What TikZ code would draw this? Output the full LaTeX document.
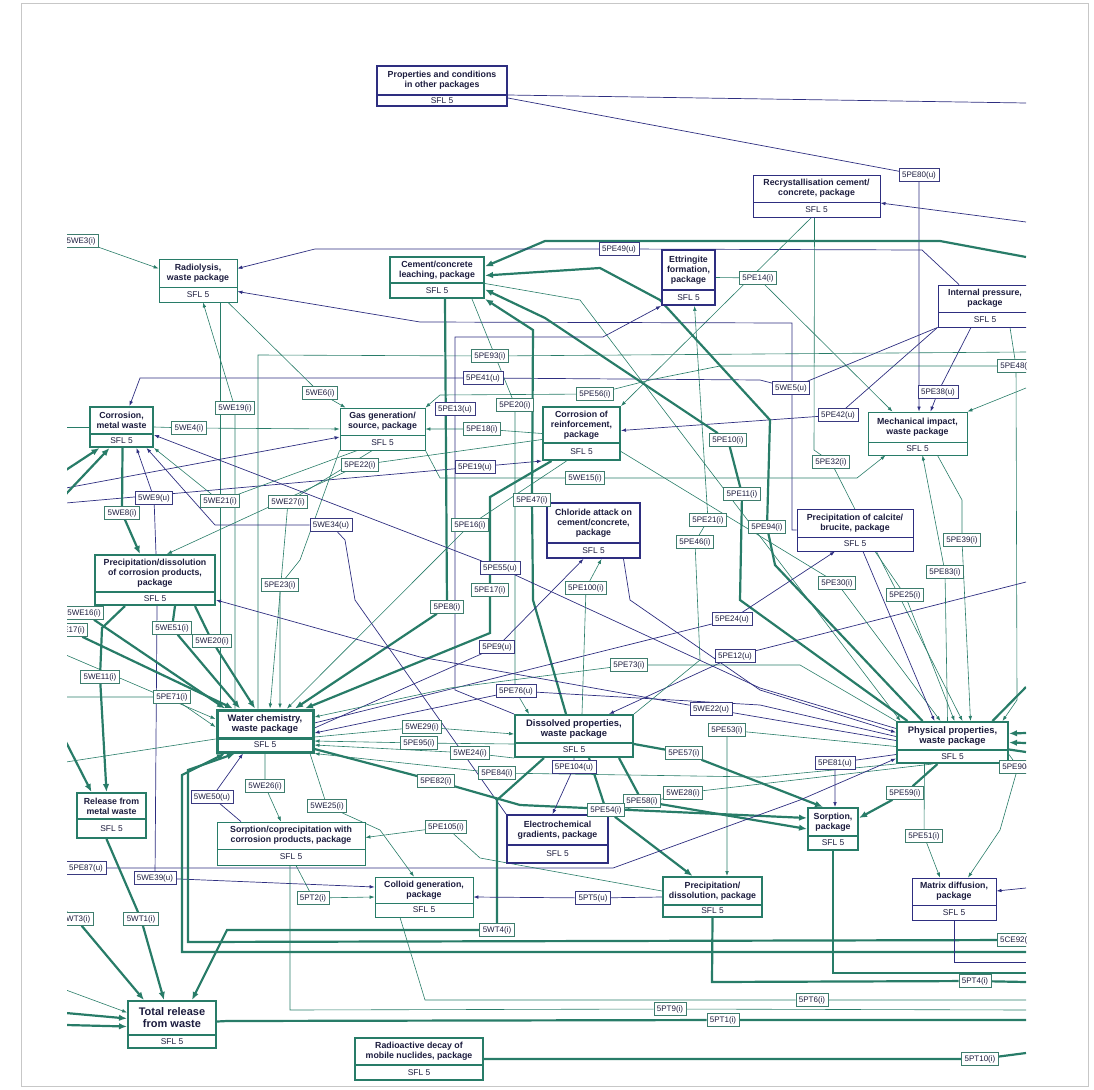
\documentclass[tikz,border=0pt]{standalone}
\usepackage{fontspec}
\setmainfont{Liberation Sans}
\usetikzlibrary{arrows.meta,backgrounds}
\definecolor{fepgreen}{RGB}{40,124,104}
\definecolor{fepnavy}{RGB}{46,46,128}
\definecolor{feptext}{RGB}{28,28,62}
\tikzset{
  fepthin/.style={draw=fepgreen, line width=0.8pt},
  fepthick/.style={draw=fepgreen, line width=2pt},
  fepwide/.style={draw=fepgreen, line width=3pt},
  fepnavy/.style={draw=fepnavy, line width=0.9pt},
  fepnavythick/.style={draw=fepnavy, line width=1.8pt},
  boxtitle/.style={font=\bfseries\fontsize{8.8}{9.8}\selectfont, text=feptext, align=center, inner sep=0pt},
  boxsfl/.style={font=\fontsize{8.4}{9}\selectfont, text=feptext, inner sep=0pt},
  idi/.style={draw=fepgreen!75!gray, line width=0.6pt, fill=white, font=\fontsize{8}{9}\selectfont, text=feptext, inner xsep=3pt, inner ysep=1pt, minimum height=13pt},
  idu/.style={idi, draw=fepnavy!85!gray},
  gline/.style={draw=fepgreen, line width=0.6pt},
  garrow/.style={gline, -{Latex[length=5pt,width=3.6pt]}},
  gthick/.style={draw=fepgreen, line width=2.2pt},
  gthickarrow/.style={gthick, -{Latex[length=8pt,width=6.5pt]}},
  nline/.style={draw=fepnavy, line width=0.7pt},
  narrow/.style={nline, -{Latex[length=5pt,width=3.6pt]}}
}
% process box: [title opts]{name}{style}{x1}{y1}{x2}{y2}{divider y}{title}
\newcommand{\fepbox}[9][]{%
  \node[#3, fill=white, inner sep=0pt, minimum width={(#6-#4)*1pt}, minimum height={(#7-#5)*1pt}] (#2) at ({(#4+#6)/2},{(#5+#7)/2}) {};
  \draw[#3] (#4,#8) -- (#6,#8);
  \node[boxtitle,#1] (#2-t) at ({(#4+#6)/2},{(#5+#8)/2}) {#9};
  \node[boxsfl] (#2-s) at ({(#4+#6)/2},{(#8+#7)/2}) {SFL 5};
}

\begin{document}
\begin{tikzpicture}[x=1pt, y=-1pt]
\useasboundingbox (0,0) rectangle (1094,1089);
\draw[black!22, line width=0.8pt] (21,3) rectangle (1088,1086);

\begin{scope}
\clip (67,0) rectangle (1026,1089);
% ---- process boxes ----
\fepbox{props}{fepnavythick}{377}{66}{507}{106}{95}{Properties and conditions\\in other packages}
\fepbox{recr}{fepnavy}{753}{175}{880}{217}{202}{Recrystallisation cement/\\concrete, package}
\fepbox{radio}{fepthin}{159}{259}{237}{302}{287}{Radiolysis,\\waste package}
\fepbox{cem}{fepthick}{390}{257}{484}{298}{283}{Cement/concrete\\leaching, package}
\fepbox{ettr}{fepnavythick}{662}{250}{715}{305}{290}{Ettringite\\formation,\\package}
\fepbox{intp}{fepnavy}{938}{285}{1032}{327}{312}{Internal pressure,\\package}
\fepbox{corm}{fepthick}{90}{407}{153}{447}{434}{Corrosion,\\metal waste}
\fepbox{gas}{fepthin}{340}{408}{425}{450}{435}{Gas generation/\\source, package}
\fepbox{corr}{fepthick}{543}{407}{620}{460}{443}{Corrosion of\\reinforcement,\\package}
\fepbox{mech}{fepthin}{868}{412}{967}{455}{442}{Mechanical impact,\\waste package}
\fepbox{chlo}{fepnavythick}{547}{503}{640}{558}{543}{Chloride attack on\\cement/concrete,\\package}
\fepbox{calc}{fepnavy}{797}{509}{913}{551}{537}{Precipitation of calcite/\\brucite, package}
\fepbox{prec}{fepthick}{95}{555}{215}{605}{592}{Precipitation/dissolution\\of corrosion products,\\package}
\fepbox[font=\bfseries\fontsize{9.4}{10.4}\selectfont]{water}{fepwide}{217}{710}{313}{752}{738}{Water chemistry,\\waste package}
\fepbox[font=\bfseries\fontsize{9.4}{10.4}\selectfont]{diss}{fepthick}{515}{715}{633}{757}{743}{Dissolved properties,\\waste package}
\fepbox[font=\bfseries\fontsize{9.4}{10.4}\selectfont]{phys}{fepthick}{897}{722}{1008}{763}{750}{Physical properties,\\waste package}
\fepbox{relm}{fepthick}{77}{793}{146}{838}{819}{Release from\\metal waste}
\fepbox{sorpc}{fepthin}{217}{822}{365}{865}{849}{Sorption/coprecipitation with\\corrosion products, package}
\fepbox{elec}{fepnavythick}{507}{815}{608}{863}{845}{Electrochemical\\gradients, package}
\fepbox{sorp}{fepthick}{808}{808}{858}{850}{836}{Sorption,\\package}
\fepbox{coll}{fepthin}{375}{877}{473}{917}{903}{Colloid generation,\\package}
\fepbox{precd}{fepthick}{663}{877}{762}{917}{905}{Precipitation/\\dissolution, package}
\fepbox{matr}{fepnavy}{912}{878}{996}{920}{905}{Matrix diffusion,\\package}
\fepbox[font=\bfseries\fontsize{11}{12}\selectfont]{total}{fepthick}{128}{1001}{216}{1048}{1035}{Total release\\from waste}
\fepbox{decay}{fepthick}{355}{1038}{483}{1080}{1065}{Radioactive decay of\\mobile nuclides, package}

% ---- influence labels ----
\node[idi] (we3) at (81,241) {5WE3(i)};
\node[idu] (pe80) at (919,175) {5PE80(u)};
\node[idu] (pe49) at (619,249) {5PE49(u)};
\node[idi] (pe14) at (758,278) {5PE14(i)};
\node[idi] (pe48) at (1016,366) {5PE48(i)};
\node[idi] (we19) at (235,408) {5WE19(i)};
\node[idi] (we6) at (320,393) {5WE6(i)};
\node[idi] (we4) at (189,428) {5WE4(i)};
\node[idi] (pe22) at (360,465) {5PE22(i)};
\node[idu] (we9) at (154,498) {5WE9(u)};
\node[idi] (we21) at (220,501) {5WE21(i)};
\node[idi] (we27) at (288,502) {5WE27(i)};
\node[idi] (we8) at (122,513) {5WE8(i)};
\node[idu] (we34) at (331,525) {5WE34(u)};
\node[idi] (pe93) at (490,356) {5PE93(i)};
\node[idu] (pe41) at (483,378) {5PE41(u)};
\node[idi] (pe56) at (595,394) {5PE56(i)};
\node[idu] (pe13) at (455,409) {5PE13(u)};
\node[idi] (pe20) at (515,405) {5PE20(i)};
\node[idi] (pe18) at (482,429) {5PE18(i)};
\node[idi] (pe10) at (728,440) {5PE10(i)};
\node[idu] (pe19) at (475,467) {5PE19(u)};
\node[idi] (we15) at (585,478) {5WE15(i)};
\node[idi] (pe11) at (742,494) {5PE11(i)};
\node[idi] (pe47) at (532,500) {5PE47(i)};
\node[idi] (pe21) at (708,520) {5PE21(i)};
\node[idi] (pe16) at (470,525) {5PE16(i)};
\node[idi] (pe46) at (695,542) {5PE46(i)};
\node[idu] (pe55) at (500,568) {5PE55(u)};
\node[idu] (we5) at (791,388) {5WE5(u)};
\node[idu] (pe38) at (938,392) {5PE38(u)};
\node[idu] (pe42) at (838,415) {5PE42(u)};
\node[idi] (pe32) at (831,462) {5PE32(i)};
\node[idi] (pe94) at (767,527) {5PE94(i)};
\node[idi] (pe39) at (962,540) {5PE39(i)};
\node[idi] (pe83) at (945,572) {5PE83(i)};
\node[idi] (pe30) at (837,583) {5PE30(i)};
\node[idi] (pe25) at (905,595) {5PE25(i)};
\node[idi] (we16) at (84,613) {5WE16(i)};
\node[idi] (we17) at (68,630) {5WE17(i)};
\node[idi] (we51) at (172,628) {5WE51(i)};
\node[idi] (we20) at (212,641) {5WE20(i)};
\node[idi] (we11) at (100,677) {5WE11(i)};
\node[idi] (pe71) at (172,697) {5PE71(i)};
\node[idi] (pe23) at (280,585) {5PE23(i)};
\node[idu] (we50) at (212,797) {5WE50(u)};
\node[idi] (we26) at (265,786) {5WE26(i)};
\node[idi] (we25) at (327,806) {5WE25(i)};
\node[idi] (pe17) at (490,590) {5PE17(i)};
\node[idi] (pe100) at (586,588) {5PE100(i)};
\node[idi] (pe8) at (447,607) {5PE8(i)};
\node[idu] (pe24) at (732,619) {5PE24(u)};
\node[idu] (pe9) at (497,647) {5PE9(u)};
\node[idu] (pe12) at (735,656) {5PE12(u)};
\node[idi] (pe73) at (629,665) {5PE73(i)};
\node[idu] (pe76) at (516,691) {5PE76(u)};
\node[idu] (we22) at (711,709) {5WE22(u)};
\node[idi] (we29) at (422,727) {5WE29(i)};
\node[idi] (pe95) at (419,743) {5PE95(i)};
\node[idi] (pe53) at (727,730) {5PE53(i)};
\node[idi] (we24) at (470,753) {5WE24(i)};
\node[idi] (pe57) at (684,753) {5PE57(i)};
\node[idu] (pe104) at (574,767) {5PE104(u)};
\node[idi] (pe84) at (497,773) {5PE84(i)};
\node[idi] (pe82) at (436,781) {5PE82(i)};
\node[idi] (we28) at (683,793) {5WE28(i)};
\node[idi] (pe58) at (642,801) {5PE58(i)};
\node[idi] (pe54) at (606,810) {5PE54(i)};
\node[idi] (pe105) at (446,827) {5PE105(i)};
\node[idu] (pe81) at (835,763) {5PE81(u)};
\node[idi] (pe90) at (1018,767) {5PE90(i)};
\node[idi] (pe59) at (905,793) {5PE59(i)};
\node[idi] (pe51) at (924,836) {5PE51(i)};
\node[idu] (pe87) at (86,868) {5PE87(u)};
\node[idu] (we39) at (155,878) {5WE39(u)};
\node[idi] (pt2) at (313,898) {5PT2(i)};
\node[idi] (wt3) at (76,919) {5WT3(i)};
\node[idi] (wt1) at (141,919) {5WT1(i)};
\node[idu] (pt5) at (593,898) {5PT5(u)};
\node[idi] (wt4) at (497,930) {5WT4(i)};
\node[idi] (ce92) at (1016,940) {5CE92(i)};
\node[idi] (pt4) at (975,981) {5PT4(i)};
\node[idi] (pt6) at (812,1000) {5PT6(i)};
\node[idi] (pt9) at (670,1009) {5PT9(i)};
\node[idi] (pt1) at (723,1020) {5PT1(i)};
\node[idi] (pt10) at (980,1059) {5PT10(i)};

% free ends at the cut edges
\coordinate (oPropsR) at (1026,103);
\coordinate (oRecrR) at (1026,222);
\coordinate (oCemR) at (1026,257);
\coordinate (oQ352) at (1026,352);
\coordinate (oMechR) at (1026,388);
\coordinate (oR582) at (1026,582);
\coordinate (oR687) at (1026,687);
\coordinate (oR733) at (1026,733);
\coordinate (oR743) at (1026,743);
\coordinate (oR752) at (1026,752);
\coordinate (oR888) at (1026,888);
\coordinate (oR952) at (1026,952);
\coordinate (oR962) at (1026,962);
\coordinate (oR973) at (1026,973);
\coordinate (oR982) at (1026,982);
\coordinate (oR1000) at (1026,1000);
\coordinate (oR1010) at (1026,1010);
\coordinate (oR1020) at (1026,1020);
\coordinate (oR1053) at (1026,1053);
\coordinate (iL241) at (60,241);
\coordinate (iL427) at (66,427);
\coordinate (iL470) at (66,470);
\coordinate (iL488) at (66,488);
\coordinate (iL492) at (66,494);
\coordinate (iL500) at (66,503);
\coordinate (iL613) at (60,613);
\coordinate (iL630) at (60,630);
\coordinate (iL655) at (66,655);
\coordinate (iL697) at (60,697);
\coordinate (iL740) at (66,742);
\coordinate (iL760) at (66,762);
\coordinate (iL868) at (60,868);
\coordinate (iL905) at (60,907);
\coordinate (iL990) at (66,990);
\coordinate (iL1012) at (66,1013);
\coordinate (iL1025) at (66,1025);
\end{scope}

\begin{scope}[on background layer]
\clip (67,0) rectangle (1026,1089);
% ---- top ----
\draw[nline] ([yshift=-9]props.east) -- (oPropsR);
\draw[narrow] ([yshift=-12]props.east) -- (pe80) -- (pe80 |- mech.north);
\draw[narrow] (oRecrR) -- ([yshift=-7]recr.east);
\draw[gthickarrow] (oCemR) -- (940,241) -- (545,241) -- ([yshift=11]cem.east);
\draw[narrow] ([xshift=-26]intp.north) -- (922,250) -- (pe49) -- (315,249) -- ([yshift=12]radio.east);
\draw[garrow] (ettr.east) -- (pe14) -- ([xshift=-25]mech.north);
\draw[garrow] ([xshift=-5]recr.south) -- (corr.north east);
\draw[garrow] ([xshift=-2]recr.south) -- (814,450) -- (pe32) -- ([xshift=10]phys.north);
\draw[narrow] ([xshift=-14]intp.south) -- (pe38) -- ([xshift=13]mech.north);
\draw[narrow] (intp.south west) -- (pe42) -- ([yshift=3]corr.east);
\draw[narrow] (intp.south west) -- (we5) -- (760,380) -- (pe41) -- (140,378) -- ([xshift=8]corm.north);
\draw[narrow] (calc.west) -- (792,530) -- (792,323) -- (420,322) -- ([yshift=-11]radio.east);
\draw[garrow] ([xshift=25]intp.south) -- (pe48) -- (720,366) -- (650,380) -- (pe56) -- (440,395) -- (gas.north east);
\draw[garrow] (pe48) -- (1017,700) -- ([xshift=50]phys.north);
\draw[garrow] (oMechR) -- (mech.north east);
\draw[gline] ([xshift=-7]water.north) -- (258,355) -- (pe93) -- (oQ352);
\draw[gthickarrow] ([xshift=-45]phys.north) -- (740,600) -- (pe11) -- (pe10) -- (545,318) -- ([yshift=-12]cem.east);
\draw[gthickarrow] ([xshift=-30]phys.north) -- (775,565) -- (pe94) -- (770,420) -- (660,300) -- (600,268) -- ([yshift=2]cem.east);
\draw[garrow] ([yshift=-6]cem.east) -- (580,300) -- ([xshift=-52]phys.north);
% ---- radiolysis, gas, corrosion ----
\draw[garrow] (iL241) -- (we3) -- ([yshift=12]radio.west);
\draw[garrow] ([xshift=-30]water.north) -- (we19) -- ([xshift=5]radio.south);
\draw[garrow] ([xshift=22]radio.south) -- ([xshift=-45]water.north);
\draw[garrow] ([xshift=30]radio.south) -- (we6) -- ([xshift=-37]gas.north);
\draw[garrow] (corm.east) -- (we4) -- (gas.west);
\draw[gline] (iL427) -- (corm.west);
\draw[narrow] (iL488) -- ([yshift=-8]gas.west);
\draw[narrow] (iL500) -- (pe19) -- (corr.south west);
\draw[garrow] (corr.west) -- (pe18) -- (gas.east);
\draw[narrow] (diss.north west) -- (455,690) -- (pe13) -- (455,337) -- (603,337) -- (ettr.south west);
\draw[garrow] ([xshift=35]cem.south) -- (pe20) -- (515,690) -- ([xshift=-45]diss.north);
\draw[gthickarrow] ([xshift=-8]diss.north) -- (533,600) -- (pe47) -- (533,330) -- (cem.south east);
\draw[gthickarrow] ([xshift=8]cem.south) -- (pe8) -- ([xshift=30]water.north);
\draw[gthickarrow] ([xshift=-30]corr.south) -- (490,497) -- (pe17) -- (490,633) -- ([xshift=40]water.north);
\draw[garrow] ([xshift=-15]corr.south) -- (pe16) -- ([xshift=22]water.north);
\draw[garrow] (gas.south west) -- (300,560) -- (pe23) -- ([xshift=15]water.north);
\draw[garrow] ([xshift=-10]gas.south) -- (we27) -- ([xshift=5]water.north);
\draw[garrow] ([xshift=-25]gas.south) -- (we21) -- (corm.south east);
\draw[garrow] ([yshift=-6]corr.west) -- (pe22) -- ([xshift=12]prec.north);
\draw[narrow] ([xshift=1]prec.north) -- (we9) -- ([xshift=15]corm.south);
\draw[gthickarrow] ([xshift=1]corm.south) -- (we8) -- ([xshift=-15]prec.north);
\draw[narrow] (elec.north west) -- (355,600) -- (345,540) -- (we34) -- (215,525) -- ([xshift=25]corm.south);
\draw[narrow] ([yshift=14]phys.west) -- (760,688) -- (pe55) -- ([yshift=-8]corm.east);
\draw[gthickarrow] (iL470) -- ([xshift=-22]corm.south);
\draw[gthickarrow] (iL492) -- ([xshift=-12]corm.south);
% ---- water chemistry ----
\draw[gthickarrow] ([xshift=20]prec.south) -- (we51) -- ([xshift=-25]water.north);
\draw[gthickarrow] ([xshift=40]prec.south) -- (we20) -- ([xshift=-10]water.north);
\draw[gthickarrow] ([xshift=-30]prec.south) -- (102,628) -- (we11) -- ([xshift=-5]relm.north);
\draw[narrow] ([xshift=2]prec.south) -- (we39) -- ([yshift=10]coll.west);
\draw[gthickarrow] (iL613) -- (we16) -- ([xshift=-40]water.north);
\draw[gthickarrow] (iL630) -- (we17) -- ([xshift=-32]water.north);
\draw[garrow] (iL655) -- ([yshift=12]water.west);
\draw[garrow] (iL697) -- (pe71) -- ([yshift=4]water.west);
\draw[gline] ([yshift=-8]water.west) -- (iL760);
\draw[gthickarrow] (iL740) -- ([xshift=-20]relm.north);
\draw[narrow] ([yshift=3]water.east) -- (pe9) -- ([xshift=-10]chlo.south);
\draw[garrow] ([xshift=8]diss.north) -- (pe100) -- ([xshift=8]chlo.south);
\draw[narrow] ([xshift=30]chlo.south) -- (630,600) -- (760,690) -- ([yshift=10]phys.west);
\draw[narrow] ([yshift=8]water.east) -- (pe24) -- ([xshift=-20]calc.south);
\draw[narrow] (oR582) -- (pe12) -- ([xshift=35]diss.north);
\draw[garrow] (phys.north west) -- (800,665) -- (pe73) -- (450,688) -- ([yshift=14]water.east);
\draw[narrow] ([yshift=6]phys.west) -- (760,705) -- (pe76) -- ([yshift=-2]water.east);
\draw[narrow] ([yshift=2]phys.west) -- (we22) -- (420,657) -- ([yshift=-20]prec.east);
\draw[garrow] ([yshift=-6]water.east) -- (we29) -- ([yshift=2]diss.west);
\draw[garrow] ([yshift=-8]diss.west) -- (pe95) -- ([yshift=-10]water.east);
\draw[garrow] (diss.south west) -- (we24) -- ([yshift=-14]water.east);
\draw[garrow] (phys.south west) -- (760,777) -- (pe84) -- (water.south east);
\draw[gthickarrow] ([yshift=-18]water.east) -- (pe82) -- (520,805) -- ([yshift=11]sorp.west);
% ---- dissolved and physical properties ----
\draw[gthickarrow] ([xshift=45]diss.south) -- (pe58) -- (sorp.west);
\draw[gthickarrow] ([xshift=15]diss.south) -- (pe54) -- ([xshift=-20]precd.north);
\draw[gthickarrow] ([yshift=-8]diss.east) -- (pe57) -- ([xshift=-10]sorp.north);
\draw[narrow] (diss.south) -- (pe104) -- ([xshift=-5]elec.north);
\draw[garrow] ([xshift=-20]phys.south) -- (we28) -- (elec.north east);
\draw[garrow] ([yshift=-4]phys.west) -- (pe53) -- (pe53 |- precd.north);
\draw[narrow] ([yshift=-12]phys.west) -- (pe81) -- (pe81 |- sorp.north);
\draw[narrow] (iL868) -- (pe87) -- (613,868) -- (800,800) -- ([yshift=-16]phys.west);
\draw[gthickarrow] ([xshift=-15]phys.south) -- (pe59) -- ([yshift=11]sorp.east);
\draw[gthickarrow] ([xshift=-30]diss.south) -- (497,800) -- (wt4) -- (227,930) -- ([xshift=20]total.north);
\draw[gthickarrow] (ce92) -- (188,942) -- (188,770) -- ([xshift=-30]water.south);
\draw[gthickarrow] (oR952) -- (182,952) -- (182,775) -- ([xshift=-40]water.south);
\draw[garrow] (diss.north east) -- (700,660) -- (pe46) -- (pe21) -- ([xshift=6]ettr.south);
\draw[garrow] ([yshift=-18]corr.east) -- (pe30) -- ([xshift=-12]phys.north);
\draw[garrow] ([xshift=20]calc.south) -- (pe25) -- ([xshift=2]phys.north);
\draw[narrow] ([xshift=8]calc.south) -- ([xshift=-18]phys.north);
\draw[garrow] ([xshift=-5]phys.north) -- (pe83) -- ([xshift=5]mech.south);
\draw[garrow] ([xshift=20]mech.south) -- (962,500) -- (pe39) -- ([xshift=18]phys.north);
\draw[garrow] (gas.south east) -- (440,478) -- (we15) -- (857,478) -- ([xshift=-32]mech.south);
\draw[gthick] ([xshift=40]phys.north) -- (oR687);
\draw[gthickarrow] (oR733) -- ([yshift=9]phys.east);
\draw[gthickarrow] (oR743) -- ([yshift=0]phys.east);
\draw[gthick] ([yshift=-7]phys.east) -- (oR752);
% ---- lower packages ----
\draw[narrow] (precd.west) -- (pt5) -- (coll.east);
\draw[garrow] ([xshift=5]sorpc.south) -- (pt2) -- (coll.west);
\draw[garrow] ([xshift=45]water.south) -- (we25) -- (380,830) -- ([xshift=-10]coll.north);
\draw[garrow] (water.south) -- (we26) -- ([xshift=-10]sorpc.north);
\draw[narrow] ([xshift=-50]sorpc.north) -- (we50) -- ([xshift=-22]water.south);
\draw[garrow] ([yshift=6]precd.west) -- (480,858) -- (pe105) -- ([yshift=6]sorpc.east);
\draw[gthick] (precd.south) -- (712,982) -- (pt4) -- (oR982);
\draw[gthick] (sorp.south) -- (833,973) -- (oR973);
\draw[nline] (matr.south) -- (954,962) -- (oR962);
\draw[narrow] (oR888) -- ([yshift=8]matr.east);
\draw[garrow] ([xshift=-28]phys.south) -- (pe51) -- ([xshift=-14]matr.north);
\draw[garrow] ([yshift=-12]phys.east) -- (pe90) -- (1000,830) -- ([xshift=14]matr.north);
% ---- total release ----
\draw[gthickarrow] ([xshift=-5]relm.south) -- (wt1) -- ([xshift=-8]total.north);
\draw[gthickarrow] (iL905) -- (wt3) -- ([xshift=-28]total.north);
\draw[garrow] (iL990) -- ([yshift=12]total.west);
\draw[gthickarrow] (iL1012) -- ([yshift=6]total.west);
\draw[gthickarrow] (iL1025) -- ([yshift=-2]total.west);
\draw[gthick] ([yshift=3]total.east) -- (227,1021) -- (pt1) -- (oR1020);
\draw[gline] ([xshift=-1]sorpc.south) -- (290,1010) -- (pt9) -- (oR1010);
\draw[gline] ([xshift=-24]coll.south) -- (425,1000) -- (pt6) -- (oR1000);
\draw[gthick] (decay.east) -- (pt10) -- (oR1053);
\end{scope}
\end{tikzpicture}
\end{document}
